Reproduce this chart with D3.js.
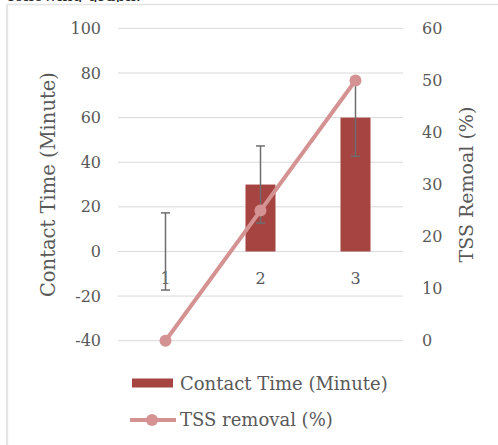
<!DOCTYPE html>
<html>
<head>
<meta charset="utf-8">
<script src="https://cdn.jsdelivr.net/npm/d3@7"></script>
<style>
  html, body { margin: 0; padding: 0; background: #fff; }
  svg { display: block; }
  text { font-family: "DejaVu Serif", "Liberation Serif", serif; fill: #595959; }
</style>
</head>
<body>
<svg id="chart" width="498" height="445"></svg>
<script>
const categories = ["1", "2", "3"];
const contactTime = [0, 30, 60];
const contactErr = [17.3, 17.3, 17.3];
const tssRemoval = [0, 25, 50];
const leftTicks = [-40, -20, 0, 20, 40, 60, 80, 100];
const rightTicks = [0, 10, 20, 30, 40, 50, 60];

const svg = d3.select("#chart");
const W = 498, H = 445;
const m = { left: 118, right: 95, top: 28.4, bottom: 104.3 };

const x = d3.scaleBand().domain(categories).range([m.left, W - m.right]).padding(0);
const yL = d3.scaleLinear().domain([-40, 100]).range([H - m.bottom, m.top]);
const yR = d3.scaleLinear().domain([0, 60]).range([H - m.bottom, m.top]);

// frame (cropped)
svg.append("text").attr("x", 8).attr("y", 1).style("fill", "#222").style("font-size", "16px").text("following graph.");
svg.append("rect").attr("x", 0).attr("y", 2).attr("width", W).attr("height", 3).attr("fill", "#fff");
svg.append("line").attr("x1", 7).attr("x2", W).attr("y1", 4.5).attr("y2", 4.5).attr("stroke", "#e3e3e3").attr("stroke-width", 1.5);
svg.append("line").attr("x1", 7.2).attr("x2", 7.2).attr("y1", 4.5).attr("y2", H).attr("stroke", "#e3e3e3").attr("stroke-width", 2);

// gridlines
svg.append("g").selectAll("line").data(leftTicks).join("line")
  .attr("x1", m.left).attr("x2", W - m.right)
  .attr("y1", d => yL(d)).attr("y2", d => yL(d))
  .attr("stroke", "#d9d9d9").attr("stroke-width", 1);

// left axis labels
const axL = d3.axisLeft(yL).tickValues(leftTicks).tickSize(0).tickPadding(0)
  .tickFormat(d => d < 0 ? "-" + Math.abs(d) : d);
const gL = svg.append("g").attr("transform", `translate(101,0)`).call(axL);
gL.select(".domain").remove();
gL.selectAll("text").style("font-size", "16px").style("font-family", null).style("fill", "#595959");

// right axis labels
const axR = d3.axisRight(yR).tickValues(rightTicks).tickSize(0).tickPadding(0);
const gR = svg.append("g").attr("transform", `translate(422,0)`).call(axR);
gR.select(".domain").remove();
gR.selectAll("text").style("font-size", "16px").style("font-family", null).style("fill", "#595959");

// axis titles
svg.append("text").attr("transform", `translate(55,${(yL(100)+yL(-40))/2}) rotate(-90)`)
  .attr("text-anchor", "middle").style("font-size", "19.5px").text("Contact Time (Minute)");
svg.append("text").attr("transform", `translate(473,${(yL(100)+yL(-40))/2}) rotate(-90)`)
  .attr("text-anchor", "middle").style("font-size", "19px").text("TSS Remoal (%)");

// bars
const bw = 30;
svg.append("g").selectAll("rect").data(categories).join("rect")
  .attr("x", (d) => x(d) + x.bandwidth() / 2 - bw / 2)
  .attr("width", bw)
  .attr("y", (d, i) => Math.min(yL(contactTime[i]), yL(0)))
  .attr("height", (d, i) => Math.abs(yL(0) - yL(contactTime[i])))
  .attr("fill", "#a64441");

// category labels
svg.append("g").selectAll("text").data(categories).join("text")
  .attr("x", d => x(d) + x.bandwidth() / 2)
  .attr("y", yL(0) + 33)
  .attr("text-anchor", "middle").style("font-size", "16px")
  .text(d => d);

// error bars
const eg = svg.append("g").attr("stroke", "#6d6d6d").attr("stroke-width", 1.5);
categories.forEach((c, i) => {
  const cx = x(c) + x.bandwidth() / 2;
  const y1 = yL(contactTime[i] + contactErr[i]);
  const y2 = yL(contactTime[i] - contactErr[i]);
  eg.append("line").attr("x1", cx).attr("x2", cx).attr("y1", y1).attr("y2", y2);
  eg.append("line").attr("x1", cx - 4.5).attr("x2", cx + 4.5).attr("y1", y1).attr("y2", y1);
  eg.append("line").attr("x1", cx - 4.5).attr("x2", cx + 4.5).attr("y1", y2).attr("y2", y2);
});

// line series
const lineColor = "#d49392";
const line = d3.line().x((d, i) => x(categories[i]) + x.bandwidth() / 2).y(d => yR(d));
svg.append("path").datum(tssRemoval).attr("d", line)
  .attr("fill", "none").attr("stroke", lineColor).attr("stroke-width", 4);
svg.append("g").selectAll("circle").data(tssRemoval).join("circle")
  .attr("cx", (d, i) => x(categories[i]) + x.bandwidth() / 2)
  .attr("cy", d => yR(d)).attr("r", 6).attr("fill", lineColor);

// legend
const lg = svg.append("g");
lg.append("rect").attr("x", 132).attr("y", 378.5).attr("width", 41).attr("height", 9).attr("fill", "#a64441");
lg.append("text").attr("x", 180).attr("y", 390).style("font-size", "18px").text("Contact Time (Minute)");
lg.append("line").attr("x1", 130).attr("x2", 176).attr("y1", 420).attr("y2", 420)
  .attr("stroke", lineColor).attr("stroke-width", 4);
lg.append("circle").attr("cx", 152).attr("cy", 420).attr("r", 6).attr("fill", lineColor);
lg.append("text").attr("x", 180).attr("y", 426).style("font-size", "18px").text("TSS removal (%)");
</script>
</body>
</html>
